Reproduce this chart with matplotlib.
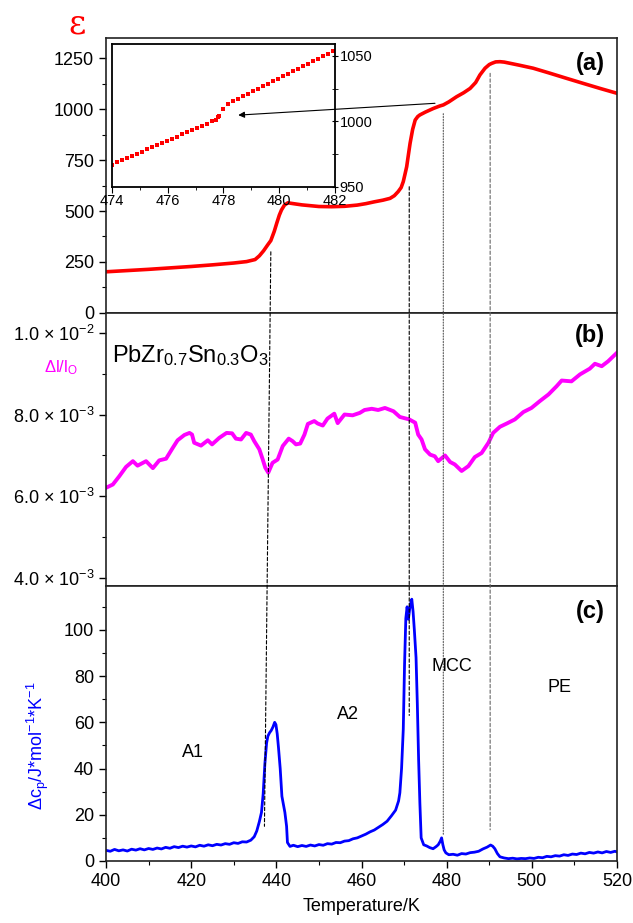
import matplotlib
matplotlib.use('Agg')
import matplotlib.pyplot as plt
from matplotlib.patches import ConnectionPatch
from matplotlib.ticker import MultipleLocator, FuncFormatter

plt.rcParams['font.family'] = ['Liberation Sans', 'DejaVu Sans']
plt.rcParams['mathtext.default'] = 'regular'

# (a) permittivity
t_eps = [400, 405, 410, 415, 420, 425, 430, 433, 435, 436, 437, 438, 438.7, 439.5,
         440.1, 440.7, 441.2, 441.9, 442.7, 444, 446, 448, 450, 453, 456, 459, 461,
         463, 465, 466.7, 467.7, 468.6, 469.3, 469.8, 470.2, 470.6, 471.0, 471.4,
         472.0, 472.6, 473.2, 473.7, 475, 476.9, 478.4, 479.2, 480.5, 482.3, 484,
         485.5, 486.8, 487.8, 489, 490.0, 490.6, 491.5, 492.5, 493.5, 494.9, 497,
         500.3, 504, 508.2, 512, 516, 520]
eps = [202, 208, 214, 221, 228, 236, 245, 252, 262, 280, 305, 335, 355, 400,
       441, 480, 505, 529, 540, 536, 530, 526, 522, 521, 523, 529, 536,
       545, 553, 562, 575, 595, 615, 644, 680, 717, 775, 832,
       900, 946, 963, 971, 985, 1003, 1015, 1020, 1035, 1060, 1080,
       1101, 1130, 1167, 1200, 1218, 1224, 1231, 1232, 1230, 1224, 1215,
       1200, 1177, 1150, 1126, 1101, 1077]

# inset of (a)
t_in = [474.00, 474.18, 474.36, 474.54, 474.72, 474.90, 475.08, 475.26, 475.44,
        475.62, 475.80, 475.98, 476.16, 476.34, 476.52, 476.70, 476.88, 477.06,
        477.24, 477.42, 477.60, 477.72, 477.80, 477.84,
        478.00, 478.17, 478.34, 478.52, 478.70, 478.88, 479.06, 479.24, 479.42,
        479.60, 479.78, 479.96, 480.14, 480.32, 480.50, 480.68, 480.86, 481.04,
        481.22, 481.40, 481.58, 481.76, 481.94]
eps_in = [967.0, 968.7, 970.3, 972.0, 973.6, 975.3, 976.9, 978.6, 980.2,
          981.9, 983.5, 985.2, 986.8, 988.5, 990.1, 991.8, 993.4, 995.1,
          996.7, 998.4, 1000.0, 1001.0, 1003.0, 1004.0,
          1009.5, 1013.0, 1015.5, 1017.4, 1019.3, 1021.2, 1023.1, 1025.0, 1026.8,
          1028.7, 1030.6, 1032.5, 1034.4, 1036.3, 1038.2, 1040.1, 1042.0, 1043.9,
          1045.8, 1047.7, 1049.6, 1051.5, 1053.4]

# (b) dilatation
t_dl = [400, 401.6, 403.1, 404.7, 406.3, 407.4, 409.4, 411.0, 412.5, 414.1, 415.7,
        416.8, 418.4, 419.6, 420.2, 420.7, 422.3, 423.9, 424.9, 426.6, 428.3,
        429.6, 430.5, 431.7, 432.9, 434.0, 434.8, 436.0, 436.8, 437.4, 438.1,
        439.1, 440.3, 441.5, 442.9, 443.8, 444.6, 445.6, 446.6, 447.4, 448.9,
        449.7, 450.9, 452.0, 453.6, 454.4, 456.0, 457.9, 459.6, 460.7, 462.4,
        463.9, 465.5, 467.5, 469.0, 471.2, 472.6, 473.3, 474.1, 474.9, 476.1,
        477.2, 478.0, 479.6, 480.8, 481.9, 483.5, 485.1, 486.6, 488.2, 489.8,
        490.9, 492.5, 494.1, 496.0, 498.0, 499.9, 501.9, 503.9, 505.8, 507.0,
        509.3, 511.3, 513.6, 514.8, 516.4, 517.9, 520.0]
dl = [6.21, 6.29, 6.49, 6.72, 6.86, 6.75, 6.86, 6.69, 6.88, 6.92, 7.19,
      7.37, 7.50, 7.55, 7.51, 7.31, 7.24, 7.37, 7.27, 7.43, 7.55,
      7.54, 7.41, 7.39, 7.55, 7.51, 7.35, 7.15, 6.90, 6.70, 6.58,
      6.82, 6.90, 7.23, 7.41, 7.35, 7.27, 7.29, 7.51, 7.77, 7.84,
      7.78, 7.73, 7.90, 8.02, 7.79, 8.00, 7.98, 8.04, 8.11, 8.14,
      8.11, 8.16, 8.08, 7.94, 7.88, 7.80, 7.51, 7.39, 7.15, 7.02,
      6.98, 6.86, 7.00, 6.84, 6.78, 6.62, 6.74, 6.96, 7.06, 7.31,
      7.55, 7.70, 7.78, 7.88, 8.06, 8.16, 8.33, 8.49, 8.69, 8.83,
      8.81, 8.98, 9.12, 9.24, 9.18, 9.30, 9.51]
dl = [v * 1e-3 for v in dl]

# (c) heat capacity
t_cp = [400, 401, 402, 403, 404, 405, 406, 407, 408, 409, 410, 411, 412, 413, 414,
        415, 416, 417, 418, 419, 420, 421, 422, 423, 424, 425, 426, 427, 428, 429,
        430, 431, 432, 433, 434, 434.8, 435.4, 436.0, 436.5, 436.9, 437.3, 437.7,
        438.0, 438.4, 438.8, 439.2, 439.6, 439.9, 440.2, 440.5, 440.9, 441.3, 442.0,
        442.4, 442.6, 443.2, 444, 445, 446, 447, 448, 449, 450, 451, 452, 453, 454,
        455, 456, 457, 458, 459, 460, 461, 462, 463, 464, 465, 466, 467, 468, 468.7,
        469.0, 469.4, 469.8, 470.1, 470.4, 470.7, 471.0, 471.3, 471.6, 471.8, 472.1,
        472.4, 472.8, 473.1, 473.4, 473.7, 474.0, 474.6, 475.3, 476.0, 476.8, 477.5,
        478.0, 478.5, 478.8, 479.1, 479.4, 479.8, 480.5, 481.5, 482.5, 483.5, 484.5,
        485.5, 486.5, 487.5, 488.5, 489.5, 490.3, 490.8, 491.3, 491.9, 492.5, 493.5,
        494.5, 495.5, 496.5, 497.5, 498.5, 499.5, 500.5, 501.5, 502.5, 503.5, 504.5,
        505.5, 506.5, 507.5, 508.5, 509.5, 510.5, 511.5, 512.5, 513.5, 514.5, 515.5,
        516.5, 517.5, 518.5, 519.5, 520]
cp = [4.6, 4.2, 5.0, 4.4, 4.8, 4.3, 5.1, 4.7, 5.3, 4.8, 5.4, 5.0, 5.6, 5.2, 5.9,
      5.5, 6.2, 5.8, 6.4, 6.0, 6.5, 6.1, 6.8, 6.4, 7.0, 6.6, 7.2, 6.9, 7.5, 7.2,
      7.9, 7.6, 8.3, 8.2, 9.0, 10.5, 13.0, 17.0, 21.0, 29.0, 42.0, 51.0,
      54.0, 55.5, 56.5, 58.0, 60.0, 59.0, 55.0, 49.0, 40.0, 28.0, 21.0,
      15.0, 8.0, 6.3, 6.8, 6.2, 6.7, 6.3, 6.9, 6.5, 7.1, 6.8, 7.5, 7.3, 8.0,
      7.9, 8.6, 8.8, 9.6, 10.0, 10.8, 11.6, 12.6, 13.4, 14.6, 15.8, 17.2, 19.5, 22.0, 26.0,
      29.5, 40.0, 57.0, 85.0, 105.0, 110.0, 104.6, 109.0, 112.0, 113.3, 108.0,
      100.0, 88.0, 68.0, 44.0, 25.0, 10.0, 7.0, 6.5, 5.8, 5.3, 6.2,
      7.0, 8.6, 10.0, 7.0, 4.8, 3.5, 2.7, 2.9, 2.5, 3.2, 3.0,
      3.6, 3.8, 4.2, 5.2, 6.0, 6.9, 6.4, 5.3, 3.2, 1.8, 1.3,
      1.0, 1.2, 0.9, 1.1, 1.0, 1.3, 1.1, 1.6, 1.4, 2.0, 1.8,
      2.3, 2.1, 2.7, 2.4, 3.0, 2.8, 3.4, 3.1, 3.7, 3.4, 3.9,
      3.5, 4.1, 3.7, 4.2, 3.9]

fig = plt.figure(figsize=(6.33, 9.23), dpi=100)
ax_a = fig.add_axes([0.1675, 0.6609, 0.8073, 0.2979])
ax_b = fig.add_axes([0.1675, 0.3651, 0.8073, 0.2958])
ax_c = fig.add_axes([0.1675, 0.0672, 0.8073, 0.2979])

for ax in (ax_a, ax_b, ax_c):
    ax.set_xlim(400, 520)
    for s in ax.spines.values():
        s.set_linewidth(1.2)
        s.set_color('#222222')
    ax.tick_params(which='major', length=5, width=1, labelsize=13, direction='out')
    ax.tick_params(which='minor', length=3, width=0.8, direction='out')
for ax in (ax_a, ax_b):
    ax.tick_params(axis='x', which='both', bottom=False, labelbottom=False)

# (a)
ax_a.plot(t_eps, eps, color='red', lw=2.6)
ax_a.set_ylim(0, 1348)
ax_a.yaxis.set_major_locator(MultipleLocator(250))
ax_a.yaxis.set_minor_locator(MultipleLocator(125))
ax_a.text(-0.057, 1.05, 'ε', color='red', fontsize=24, family='DejaVu Serif',
          transform=ax_a.transAxes, ha='center', va='center')
ax_a.text(0.947, 0.909, '(a)', fontsize=17, fontweight='bold',
          transform=ax_a.transAxes, ha='center', va='center')

# (b)
ax_b.plot(t_dl, dl, color='magenta', lw=2.8)
ax_b.set_ylim(3.81e-3, 1.048e-2)
ax_b.yaxis.set_major_locator(MultipleLocator(2e-3))
ax_b.yaxis.set_minor_locator(MultipleLocator(1e-3))


def sci(v, pos):
    if v <= 0:
        return ''
    e = 0
    m = v
    while m < 1:
        m *= 10
        e -= 1
    while m >= 10:
        m /= 10
        e += 1
    return '%.1f × 10$^{%d}$' % (m, e)


ax_b.yaxis.set_major_formatter(FuncFormatter(sci))
ax_b.text(0.947, 0.919, '(b)', fontsize=17, fontweight='bold',
          transform=ax_b.transAxes, ha='center', va='center')
ax_b.text(0.012, 0.82, 'PbZr$_{0.7}$Sn$_{0.3}$O$_3$', fontsize=17,
          transform=ax_b.transAxes, ha='left', va='baseline')
ax_b.text(-0.088, 0.80, 'Δl/l$_O$', color='magenta', fontsize=12,
          transform=ax_b.transAxes, ha='center', va='center')

# (c)
ax_c.plot(t_cp, cp, color='blue', lw=2)
ax_c.set_ylim(0, 119)
ax_c.yaxis.set_major_locator(MultipleLocator(20))
ax_c.yaxis.set_minor_locator(MultipleLocator(10))
ax_c.xaxis.set_major_locator(MultipleLocator(20))
ax_c.xaxis.set_minor_locator(MultipleLocator(10))
ax_c.set_xlabel('Temperature/K', fontsize=13, labelpad=6)
ax_c.text(-0.133, 0.42, 'Δc$_p$/J*mol$^{-1}$*K$^{-1}$', color='blue', fontsize=13,
          rotation=90, transform=ax_c.transAxes, ha='center', va='center')
ax_c.text(0.947, 0.909, '(c)', fontsize=17, fontweight='bold',
          transform=ax_c.transAxes, ha='center', va='center')
for lab, tx, ty in [('A1', 420.4, 47), ('A2', 456.8, 63.5), ('MCC', 481.2, 84), ('PE', 506.4, 75)]:
    ax_c.text(tx, ty, lab, fontsize=13, ha='center', va='center')

# inset
ax_in = fig.add_axes([0.1769, 0.7974, 0.3523, 0.1549])
ax_in.plot(t_in, eps_in, 's', color='red', ms=3.3, mew=0)
ax_in.set_xlim(474, 482)
ax_in.set_ylim(950, 1059)
ax_in.yaxis.tick_right()
ax_in.xaxis.set_major_locator(MultipleLocator(2))
ax_in.xaxis.set_minor_locator(MultipleLocator(1))
ax_in.yaxis.set_major_locator(MultipleLocator(50))
ax_in.yaxis.set_minor_locator(MultipleLocator(25))
ax_in.tick_params(axis='x', which='major', length=4, labelsize=10.5, pad=1, direction='out')
ax_in.tick_params(axis='x', which='minor', length=2.5, direction='out')
ax_in.tick_params(axis='y', which='major', length=5, labelsize=10.5, pad=1, direction='inout')
ax_in.tick_params(axis='y', which='minor', length=4, direction='inout')
for s in ax_in.spines.values():
    s.set_linewidth(1.3)

# guide lines across the panels
guides = [(438.7, 300, 437.2, 15, (0, (3, 2)), 'k'),
          (471.2, 619, 471.2, 63, (0, (3, 2)), 'k'),
          (479.2, 977, 479.2, 11, (0, (1, 1.5)), '#555555'),
          (490.2, 1175, 490.2, 13.5, (0, (3, 2)), '#666666')]
for ta, ya, tc, yc, ls, col in guides:
    cpatch = ConnectionPatch(xyA=(ta, ya), coordsA=ax_a.transData,
                             xyB=(tc, yc), coordsB=ax_c.transData,
                             linestyle=ls, lw=0.8, color=col)
    fig.add_artist(cpatch)

arrow = ConnectionPatch(xyA=(477.25, 1028), coordsA=ax_a.transData,
                        xyB=(478.53, 1004.8), coordsB=ax_in.transData,
                        arrowstyle='-|>', mutation_scale=9, lw=0.8, color='k')
arrow.set_zorder(10)
fig.add_artist(arrow)

fig.savefig('out.png', dpi=100)
